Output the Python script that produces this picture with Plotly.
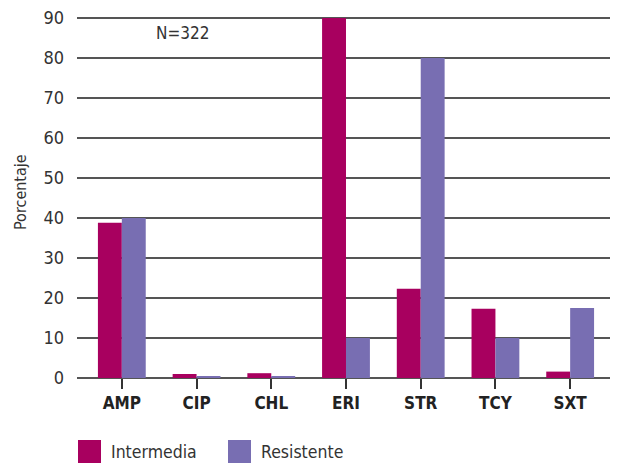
import plotly.graph_objects as go

categories = ["AMP", "CIP", "CHL", "ERI", "STR", "TCY", "SXT"]
intermedia = [38.8, 1.0, 1.2, 90.0, 22.3, 17.3, 1.6]
resistente = [40.0, 0.5, 0.5, 10.0, 80.0, 10.0, 17.5]
y_ticks = [0, 10, 20, 30, 40, 50, 60, 70, 80, 90]
series_names = ["Intermedia", "Resistente"]
colors = ["#A8005F", "#786EB2"]

FONT = "DejaVu Sans Condensed, Liberation Sans Narrow, sans-serif"
OFF = 8  # page body margin of the browser
W, H = 618 - OFF, 466 - OFF
L, R, T, B = 77 - OFF, 6, 16 - OFF, 88
PW, PH = W - L - R, H - T - B


def px(x):
    return (x - OFF - L) / PW


def py(y):
    return (H - B - (y - OFF)) / PH


fig = go.Figure()
fig.add_trace(go.Bar(x=categories, y=intermedia, name=series_names[0],
                     marker=dict(color=colors[0], line=dict(width=0))))
fig.add_trace(go.Bar(x=categories, y=resistente, name=series_names[1],
                     marker=dict(color=colors[1], line=dict(width=0))))

fig.update_layout(
    width=W, height=H,
    margin=dict(l=L, r=R, t=T, b=B, autoexpand=False),
    paper_bgcolor="white", plot_bgcolor="white",
    barmode="group", bargap=0.36, bargroupgap=0,
    showlegend=False,
    font=dict(family=FONT, color="#333333"),
)
fig.update_xaxes(
    range=[-0.6, 6.56], showgrid=False, zeroline=False, automargin=False,
    ticks="outside", ticklen=10, tickwidth=2, tickcolor="#333333",
    tickfont=dict(size=17, family=FONT, color="#222222"),
    showline=False,
    tickvals=categories, ticktext=[f"<b>{c}</b>" for c in categories],
)
fig.update_yaxes(
    range=[0, 90.5], tickvals=y_ticks, showgrid=True, gridcolor="#555555", gridwidth=1.5,
    zeroline=True, zerolinecolor="#555555", zerolinewidth=1.5, automargin=False,
    showline=False, ticks="", ticklabelstandoff=12, ticklabeloverflow="allow",
    tickfont=dict(size=18, family=FONT, color="#333333"),
)

fig.add_annotation(text="Porcentaje", xref="paper", yref="paper", x=px(20), y=py(192),
                   textangle=-90, xanchor="center", yanchor="middle", showarrow=False,
                   font=dict(size=16, family=FONT, color="#333333"))

fig.add_annotation(text="N=322", xref="paper", yref="paper", x=px(154),
                   y=py(33), xanchor="left", yanchor="middle",
                   showarrow=False, font=dict(size=17, family=FONT, color="#333333"))

# legend drawn manually
leg_y0, leg_y1 = 440, 463
for i, (name, col) in enumerate(zip(series_names, colors)):
    x0 = 78 + i * 150
    fig.add_shape(type="rect", xref="paper", yref="paper",
                  x0=px(x0), x1=px(x0 + 23),
                  y0=py(leg_y1), y1=py(leg_y0),
                  fillcolor=col, line=dict(width=0))
    fig.add_annotation(text=name, xref="paper", yref="paper",
                       x=px(x0 + 31), y=py(451.5),
                       xanchor="left", yanchor="middle", showarrow=False,
                       font=dict(size=17.5, family=FONT, color="#333333"))

fig.write_html("out.html")
